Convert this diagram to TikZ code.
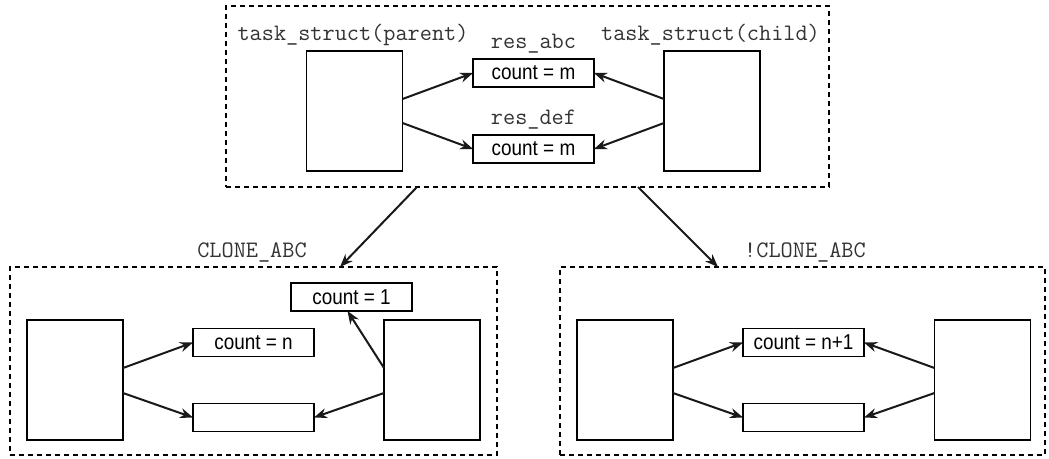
\documentclass[tikz,border=0pt]{standalone}
\usepackage{fontspec}
\setmainfont{Liberation Sans}[FakeStretch=0.88]
\usetikzlibrary{arrows.meta}
\begin{document}
\begin{tikzpicture}[x=1pt,y=-1pt,
  dbox/.style={draw, dash pattern=on 5pt off 4pt, line width=1.1pt, inner sep=0pt, outer sep=0pt},
  rectbox/.style={draw, line width=1.5pt, minimum width=96pt, minimum height=120pt, inner sep=0pt, outer sep=0pt},
  cbox/.style={draw, line width=1.5pt, minimum width=121pt, minimum height=28pt, inner sep=0pt, outer sep=0pt, font=\fontsize{21.5}{24}\selectfont},
  mlabel/.style={anchor=base, inner sep=0pt, text=black!80, font=\fontsize{23.6}{26}\ttfamily},
  arr/.style={-{Stealth[length=13pt,width=10pt]}, line width=2pt, black!90}
]
\useasboundingbox (0,0) rectangle (1049,458);
% top box
\node[dbox, minimum width=603pt, minimum height=181pt] (top) at (527.5,96.5) {};
\node[rectbox] (par) at (354.5,111) {};
\node[rectbox] (chi) at (712,111) {};
\node[cbox] (ra) at (533.5,73) {count = m};
\node[cbox] (rd) at (533.5,149) {count = m};
\node[mlabel] (lpar) at (353,40) {task\_struct(parent)};
\node[mlabel] (lchi) at (710.5,40) {task\_struct(child)};
\node[mlabel] (lra) at (533.5,48) {res\_abc};
\node[mlabel] (lrd) at (533.5,124) {res\_def};
\draw[arr] ([yshift=12pt]par.east) -- (ra.west);
\draw[arr] ([yshift=-12pt]par.east) -- (rd.west);
\draw[arr] ([yshift=12pt]chi.west) -- (ra.east);
\draw[arr] ([yshift=-12pt]chi.west) -- (rd.east);
% bottom left
\node[dbox, minimum width=487pt, minimum height=188pt] (bl) at (253.5,361) {};
\node[mlabel] (lbl) at (252,257) {CLONE\_ABC};
\node[rectbox] (bla) at (75,380) {};
\node[rectbox] (blb) at (432,380) {};
\node[cbox] (bln) at (253.5,342.5) {count = n};
\node[cbox] (ble) at (253.5,417.5) {};
\node[cbox] (bl1) at (351.5,297) {count = 1};
\draw[arr] ([yshift=12pt]bla.east) -- (bln.west);
\draw[arr] ([yshift=-13pt]bla.east) -- (ble.west);
\draw[arr] ([yshift=12pt]blb.west) -- ([xshift=-4pt]bl1.south);
\draw[arr] ([yshift=-13pt]blb.west) -- (ble.east);
% bottom right
\node[dbox, minimum width=485pt, minimum height=188pt] (br) at (802.5,361) {};
\node[mlabel] (lbr) at (805,257) {!CLONE\_ABC};
\node[rectbox] (bra) at (625,380) {};
\node[rectbox] (brb) at (982.5,380) {};
\node[cbox] (brn) at (803.5,342.5) {count = n+1};
\node[cbox] (bre) at (803.5,417.5) {};
\draw[arr] ([yshift=12pt]bra.east) -- (brn.west);
\draw[arr] ([yshift=-13pt]bra.east) -- (bre.west);
\draw[arr] ([yshift=12pt]brb.west) -- (brn.east);
\draw[arr] ([yshift=-13pt]brb.west) -- (bre.east);
% top to bottom
\draw[arr] ([xshift=-110.5pt]top.south) -- ([xshift=86.5pt]bl.north);
\draw[arr] ([xshift=110.5pt]top.south) -- ([xshift=-84.5pt]br.north);
\end{tikzpicture}
\end{document}
